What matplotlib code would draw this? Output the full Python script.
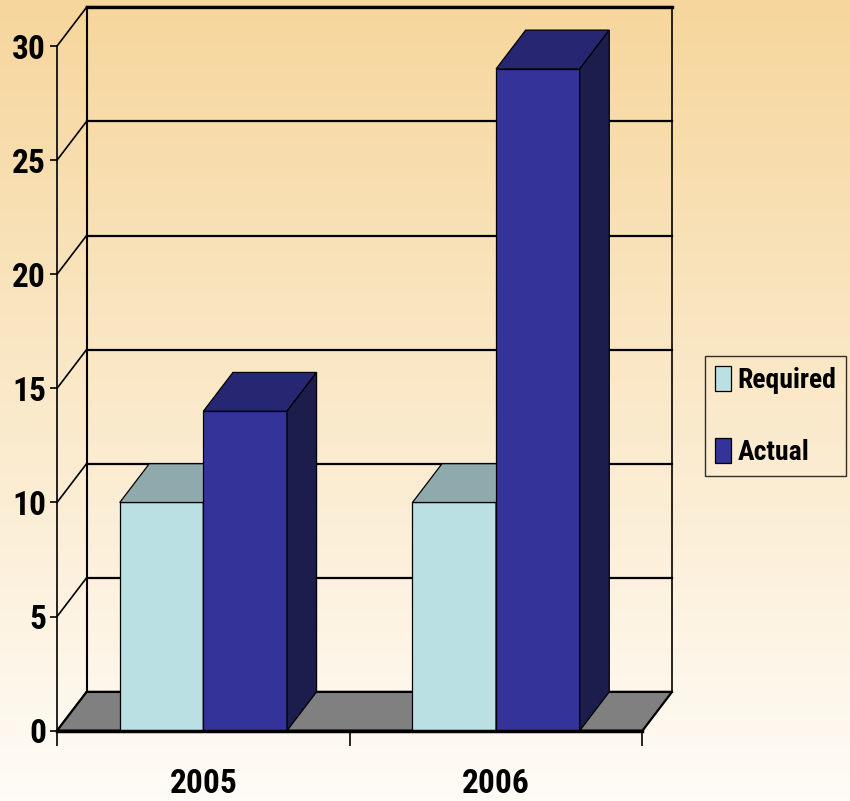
import numpy as np
import matplotlib.pyplot as plt
import matplotlib.font_manager as fm
from matplotlib.patches import Polygon

# 数据
years = ["2005", "2006"]
required = [10, 10]
actual = [14, 29]
yticks = [0, 5, 10, 15, 20, 25, 30]


def pick_narrow_bold():
    """找一个窄体粗体字体，没有就返回 None"""
    prefer = ["Liberation Sans Narrow", "Arial Narrow", "Roboto Condensed",
              "Noto Sans", "Open Sans", "Noto Sans Display", "DejaVu Sans"]
    found = []
    for f in fm.fontManager.ttflist:
        w = f.weight if isinstance(f.weight, int) else {"bold": 700, "semibold": 600,
                                                          "demibold": 600, "heavy": 800,
                                                          "black": 900}.get(str(f.weight), 400)
        st = str(f.stretch)
        narrow = ("Narrow" in f.name or "Condensed" in f.name or "condensed" in st
                  or "Condensed" in f.fname or "Narrow" in f.fname)
        if narrow and 600 <= w <= 800 and "Extra" not in f.fname and "Semi" not in f.fname:
            found.append(f)
    for name in prefer:
        for f in found:
            if f.name == name:
                return f.fname
    return found[0].fname if found else None


narrow = pick_narrow_bold()
if narrow:
    tick_fp = fm.FontProperties(fname=narrow, size=24)
    leg_fp = fm.FontProperties(fname=narrow, size=20)
else:
    tick_fp = fm.FontProperties(family=["Liberation Sans", "DejaVu Sans"], weight="bold", size=22)
    leg_fp = fm.FontProperties(family=["Liberation Sans", "DejaVu Sans"], weight="bold", size=16)

# 画布与渐变背景
fig = plt.figure(figsize=(8.5, 8.01), dpi=100)
bg = fig.add_axes([0, 0, 1, 1], zorder=-10)
t = np.linspace(0, 1, 256)[:, None]
c_top = np.array([246, 214, 156]) / 255
c_bot = np.array([255, 252, 247]) / 255
grad = (c_top * (1 - t) + c_bot * t)[:, None, :]
bg.imshow(grad, aspect="auto", extent=[0, 1, 0, 1])
bg.axis("off")

# 透视偏移（类别单位 / 数值单位）
ddx = 29.5 / 292
ddy = 1.70

ax = fig.add_axes([57 / 850, (801 - 730.7) / 801, 615 / 850, 723.4 / 801])
ax.set_xlim(0, 2 + ddx)
ax.set_ylim(0, 30 + ddy)
ax.patch.set_alpha(0)

# 背墙网格线与左墙斜线
for v in yticks:
    ax.plot([ddx, 2 + ddx], [v + ddy, v + ddy], color="black", lw=1.6, zorder=0.5, clip_on=False)
    ax.plot([0, ddx], [v, v + ddy], color="black", lw=1.2, zorder=0.5, clip_on=False)
ax.plot([ddx, ddx], [ddy, 30 + ddy], color="black", lw=1.5, zorder=0.5, clip_on=False)
ax.plot([2 + ddx, 2 + ddx], [ddy, 30 + ddy], color="black", lw=1.2, zorder=0.5, clip_on=False)
ax.plot([ddx, 2 + ddx], [30 + ddy, 30 + ddy], color="black", lw=2.4, zorder=0.5, clip_on=False)

# 地板
floor = Polygon([(0, 0), (2, 0), (2 + ddx, ddy), (ddx, ddy)], closed=True,
                facecolor="#808080", edgecolor="black", lw=1.6, zorder=1)
ax.add_patch(floor)

# 柱子
x = np.arange(len(years))
w = 1 / 3.5
series = [
    (required, 0.75 * w, "#BBE0E3", "#8FAAAC", "#6E8C8F", "Required", 3),
    (actual, 0.75 * w + w, "#333399", "#262673", "#1C1C4D", "Actual", 4),
]
for vals, xoff, front, top, side, label, z in series:
    bars = ax.bar(x + xoff, vals, width=w, align="edge", color=front,
                  edgecolor="black", lw=0.9, zorder=z, label=label)
    for r in bars:
        x0, x1, h = r.get_x(), r.get_x() + r.get_width(), r.get_height()
        ax.add_patch(Polygon([(x0, h), (x1, h), (x1 + ddx, h + ddy), (x0 + ddx, h + ddy)],
                             closed=True, facecolor=top, edgecolor="black", lw=0.9, zorder=z))
        ax.add_patch(Polygon([(x1, 0), (x1 + ddx, ddy), (x1 + ddx, h + ddy), (x1, h)],
                             closed=True, facecolor=side, edgecolor="black", lw=0.9, zorder=z))

# 坐标轴
for s in ["top", "right"]:
    ax.spines[s].set_visible(False)
ax.spines["left"].set_bounds(0, 30)
ax.spines["left"].set_linewidth(1.2)
ax.spines["bottom"].set_bounds(0, 2)
ax.spines["bottom"].set_linewidth(2.5)
ax.spines["bottom"].set_zorder(5)

ax.set_yticks(yticks, labels=[str(v) for v in yticks])
ax.tick_params(axis="y", length=5, width=1.2, pad=3)
ax.set_xticks([0, 1, 2], labels=["", "", ""])
ax.set_xticks(x + 0.5, labels=years, minor=True)
ax.tick_params(axis="x", which="major", length=11, width=1.2)
ax.tick_params(axis="x", which="minor", length=0, pad=27)
for lab in ax.get_yticklabels() + ax.get_xticklabels(minor=True):
    lab.set_fontproperties(tick_fp)

leg = ax.legend(loc="center left", bbox_to_anchor=(705 / 850, (801 - 416) / 801),
                bbox_transform=fig.transFigure, frameon=True, fancybox=False,
                facecolor="none", edgecolor="black", borderaxespad=0,
                handlelength=0.58, handleheight=1.0, handletextpad=0.25,
                labelspacing=1.6, borderpad=0.35, prop=leg_fp)
leg.get_frame().set_linewidth(1.0)

fig.savefig("out.png", dpi=100)
